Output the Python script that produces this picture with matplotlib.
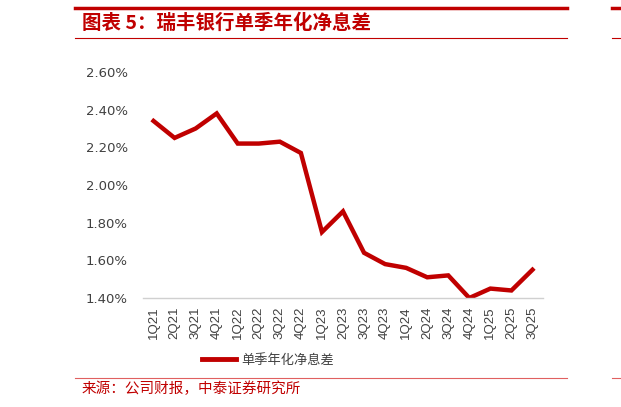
import matplotlib
matplotlib.use("Agg")
import matplotlib.pyplot as plt
from matplotlib.lines import Line2D

plt.rcParams['font.family'] = ['Noto Sans CJK SC', 'DejaVu Sans']

quarters = ["1Q21", "2Q21", "3Q21", "4Q21", "1Q22", "2Q22", "3Q22", "4Q22",
            "1Q23", "2Q23", "3Q23", "4Q23", "1Q24", "2Q24", "3Q24", "4Q24",
            "1Q25", "2Q25", "3Q25"]
nim = [2.34, 2.25, 2.30, 2.38, 2.22, 2.22, 2.23, 2.17,
       1.75, 1.86, 1.64, 1.58, 1.56, 1.51, 1.52, 1.40,
       1.45, 1.44, 1.55]
yticks = [1.40, 1.60, 1.80, 2.00, 2.20, 2.40, 2.60]
series_name = "单季年化净息差"
title = "图表 5：瑞丰银行单季年化净息差"
source = "来源：公司财报，中泰证券研究所"

RED = "#C00000"
W, H = 621, 407
fig = plt.figure(figsize=(W / 100, H / 100), dpi=100)

def fx(px):
    return px / W

def fy(py):
    return 1 - py / H

ax = fig.add_axes([fx(143), fy(298), fx(543) - fx(143), fy(72) - fy(298)])
x = list(range(len(quarters)))
line, = ax.plot(x, nim, color=RED, lw=3.2, solid_joinstyle='miter')
ax.set_xlim(-0.5, len(quarters) - 0.5)
ax.set_ylim(1.40, 2.60)
ax.set_yticks(yticks)
ax.set_yticklabels([f"{v:.2f}%" for v in yticks], fontsize=9.5, color="#404040",
                   family=['DejaVu Sans'])
ax.set_xticks(x)
ax.set_xticklabels(quarters, rotation=90, fontsize=9.5, color="#404040",
                   family=['Liberation Sans'])
for s in ['top', 'right', 'left']:
    ax.spines[s].set_visible(False)
ax.spines['bottom'].set_color("#D0D0D0")
ax.spines['bottom'].set_linewidth(1.0)
ax.tick_params(axis='both', length=0)
ax.tick_params(axis='y', pad=11)
ax.tick_params(axis='x', pad=6)

leg = fig.legend([Line2D([0], [0], color=RED, lw=3.5)], [series_name],
                 loc='center left', bbox_to_anchor=(fx(190), fy(360)),
                 frameon=False, fontsize=9.5, handlelength=2.6, handletextpad=0.4)
for t in leg.get_texts():
    t.set_color("#404040")

# decorative rules
fig.add_artist(Line2D([fx(75), fx(567)], [fy(8), fy(8)], color=RED, lw=2.5))
fig.add_artist(Line2D([fx(75), fx(567)], [fy(37.5), fy(37.5)], color=RED, lw=0.8))
fig.add_artist(Line2D([fx(75), fx(567)], [fy(378), fy(378)], color="#E06060", lw=0.8))
fig.add_artist(Line2D([fx(612), fx(621)], [fy(8), fy(8)], color=RED, lw=2.5))
fig.add_artist(Line2D([fx(612), fx(621)], [fy(37.5), fy(37.5)], color=RED, lw=0.8))
fig.add_artist(Line2D([fx(612), fx(621)], [fy(378), fy(378)], color="#E06060", lw=0.8))

fig.text(fx(82), fy(23), title, color=RED, fontsize=14, fontweight='bold',
         fontstyle='italic', va='center', ha='left')
fig.text(fx(82), fy(389), source, color=RED, fontsize=10.5, va='center', ha='left')

fig.savefig("out.png", dpi=100, facecolor='white')
